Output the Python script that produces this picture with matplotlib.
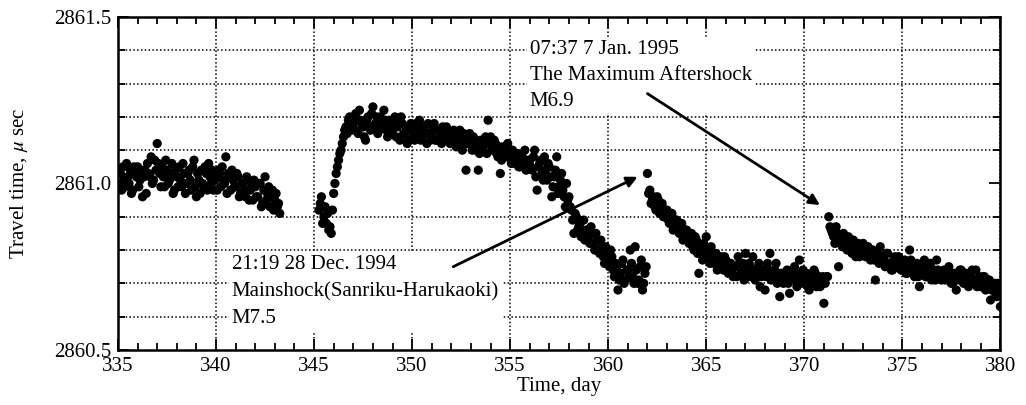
import numpy as np
import matplotlib
matplotlib.use("Agg")
import matplotlib.pyplot as plt
import matplotlib.ticker as ticker

plt.rcParams['font.family'] = ['Liberation Serif', 'DejaVu Serif']
plt.rcParams['mathtext.fontset'] = 'stix'

# ---------------- data (travel time, micro sec) ----------------
# samples every 3 hours (0.125 day); "_b" lists are the samples in between
step = 0.125

seg1_start = 335.0
seg1_vals = [
    2861.00, 2861.03, 2861.05, 2860.99, 2861.02, 2861.04, 2860.98, 2861.03,
    2861.05, 2861.01, 2860.96, 2861.04, 2861.06, 2861.02, 2861.00, 2861.07,
    2861.12, 2861.03, 2861.05, 2860.99, 2861.04, 2861.01, 2861.06, 2860.98,
    2861.02, 2861.05, 2860.99, 2861.03, 2861.00, 2861.04, 2860.98, 2861.07,
    2860.96, 2861.01, 2861.04, 2860.99, 2861.03, 2861.06, 2861.00, 2860.98,
    2861.02, 2861.04, 2860.99, 2861.01, 2861.08, 2861.03, 2860.98, 2861.01,
    2860.99, 2861.02, 2860.97, 2861.00, 2860.96, 2861.01, 2860.98, 2860.95,
    2860.99, 2860.96, 2861.00, 2860.94, 2861.02, 2860.97, 2860.93, 2860.98,
    2860.95, 2860.93, 2860.91,
]
seg1_vals_b = [
    2861.04, 2860.98, 2861.01, 2861.06, 2861.00, 2860.97, 2861.05, 2861.02,
    2860.99, 2861.04, 2861.02, 2860.97, 2861.03, 2861.08, 2861.01, 2861.04,
    2861.06, 2860.99, 2861.02, 2861.07, 2861.00, 2861.03, 2860.97, 2861.04,
    2860.99, 2861.01, 2861.06, 2860.97, 2861.03, 2861.01, 2861.05, 2860.99,
    2861.03, 2860.97, 2861.00, 2861.05, 2860.98, 2861.02, 2861.04, 2861.01,
    2860.98, 2861.03, 2861.05, 2861.00, 2860.97, 2861.02, 2861.04, 2860.99,
    2861.03, 2860.96, 2861.00, 2860.98, 2861.02, 2860.95, 2860.99, 2861.01,
    2860.96, 2861.00, 2860.93, 2860.98, 2860.95, 2860.99, 2860.96, 2860.92,
    2860.97, 2860.94,
]

seg2_start = 345.25
seg2_vals = [
    2860.92, 2860.96, 2860.90, 2860.88, 2860.86, 2860.85,
    2860.97, 2861.03, 2861.07, 2861.10, 2861.14, 2861.17, 2861.19, 2861.16,
    2861.18, 2861.21, 2861.15, 2861.19, 2861.17, 2861.13, 2861.20, 2861.16,
    2861.23, 2861.18, 2861.15, 2861.20, 2861.17, 2861.19, 2861.14, 2861.18,
    2861.16, 2861.20, 2861.17, 2861.13, 2861.18, 2861.15, 2861.12, 2861.16,
    2861.17, 2861.13, 2861.16, 2861.19, 2861.14, 2861.17, 2861.12, 2861.15,
    2861.15, 2861.18, 2861.13, 2861.16, 2861.12, 2861.15, 2861.17, 2861.14,
    2861.13, 2861.16, 2861.11, 2861.14, 2861.12, 2861.15, 2861.04, 2861.13,
    2861.12, 2861.14, 2861.10, 2861.04, 2861.13, 2861.11, 2861.14, 2861.19,
    2861.14, 2861.10, 2861.12, 2861.08, 2861.03, 2861.11, 2861.09, 2861.12,
    2861.08, 2861.10, 2861.06, 2861.09, 2861.05, 2861.08, 2861.10, 2861.06,
    2861.07, 2861.04, 2861.10, 2860.98, 2861.06, 2861.03, 2861.08, 2861.01,
    2861.05, 2860.96, 2861.02, 2861.08, 2860.99, 2861.03, 2860.96, 2861.00,
    2860.96, 2860.92, 2860.85, 2860.90, 2860.87, 2860.84, 2860.89, 2860.86,
    2860.84, 2860.87, 2860.82, 2860.85, 2860.80, 2860.83, 2860.78, 2860.81,
    2860.77, 2860.80, 2860.74, 2860.76, 2860.68, 2860.73, 2860.77, 2860.71,
    2860.74, 2860.80, 2860.72, 2860.81, 2860.70, 2860.75, 2860.68, 2860.73,
]
seg2_vals_b = [
    2860.94, 2860.88, 2860.93, 2860.91, 2860.87, 2860.92,
    2861.00, 2861.05, 2861.09, 2861.12, 2861.16, 2861.15, 2861.20, 2861.18,
    2861.16, 2861.19, 2861.22, 2861.17, 2861.14, 2861.19, 2861.17, 2861.21,
    2861.17, 2861.20, 2861.16, 2861.18, 2861.22, 2861.16, 2861.19, 2861.15,
    2861.19, 2861.14, 2861.18, 2861.20, 2861.15, 2861.17, 2861.13, 2861.18,
    2861.14, 2861.18, 2861.15, 2861.13, 2861.17, 2861.15, 2861.18, 2861.13,
    2861.17, 2861.13, 2861.16, 2861.14, 2861.17, 2861.13, 2861.15, 2861.12,
    2861.15, 2861.12, 2861.14, 2861.16, 2861.10, 2861.13, 2861.12, 2861.15,
    2861.10, 2861.13, 2861.12, 2861.09, 2861.11, 2861.13, 2861.09, 2861.12,
    2861.11, 2861.13, 2861.09, 2861.11, 2861.07, 2861.10, 2861.08, 2861.10,
    2861.06, 2861.09, 2861.07, 2861.05, 2861.08, 2861.06, 2861.04, 2861.07,
    2861.05, 2861.08, 2861.02, 2861.05, 2861.07, 2861.01, 2861.04, 2861.06,
    2861.02, 2860.99, 2861.04, 2860.97, 2861.01, 2860.98, 2860.93, 2860.95,
    2860.93, 2860.89, 2860.91, 2860.86, 2860.88, 2860.85, 2860.83, 2860.86,
    2860.82, 2860.85, 2860.80, 2860.83, 2860.79, 2860.81, 2860.76, 2860.79,
    2860.75, 2860.78, 2860.72, 2860.74, 2860.71, 2860.76, 2860.70, 2860.74,
    2860.72, 2860.76, 2860.70, 2860.74, 2860.71, 2860.77, 2860.70, 2860.75,
]

seg3_start = 362.0
seg3_vals = [
    2861.03, 2860.98, 2860.95, 2860.93, 2860.96, 2860.91, 2860.94, 2860.90,
    2860.92, 2860.88, 2860.91, 2860.87, 2860.89, 2860.85, 2860.88, 2860.84,
    2860.86, 2860.82, 2860.85, 2860.80, 2860.83, 2860.73, 2860.79, 2860.82,
    2860.84, 2860.78, 2860.81, 2860.76, 2860.79, 2860.75, 2860.78, 2860.74,
    2860.77, 2860.73, 2860.76, 2860.72, 2860.75, 2860.78, 2860.73, 2860.76,
    2860.79, 2860.72, 2860.75, 2860.78, 2860.71, 2860.74, 2860.69, 2860.73,
    2860.68, 2860.76, 2860.79, 2860.72, 2860.74, 2860.70, 2860.66, 2860.73,
    2860.71, 2860.74, 2860.67, 2860.72, 2860.75, 2860.69, 2860.77, 2860.72,
    2860.70, 2860.73, 2860.68, 2860.71, 2860.74, 2860.69, 2860.72, 2860.70,
    2860.64, 2860.72,
]
seg3_vals_b = [
    2860.97, 2860.94, 2860.96, 2860.92, 2860.95, 2860.93, 2860.90, 2860.92,
    2860.89, 2860.91, 2860.86, 2860.89, 2860.86, 2860.88, 2860.83, 2860.86,
    2860.83, 2860.85, 2860.81, 2860.84, 2860.79, 2860.81, 2860.77, 2860.80,
    2860.80, 2860.76, 2860.79, 2860.77, 2860.74, 2860.77, 2860.75, 2860.78,
    2860.74, 2860.76, 2860.73, 2860.75, 2860.72, 2860.76, 2860.74, 2860.71,
    2860.74, 2860.76, 2860.72, 2860.74, 2860.73, 2860.76, 2860.72, 2860.74,
    2860.72, 2860.74, 2860.71, 2860.73, 2860.76, 2860.71, 2860.73, 2860.70,
    2860.73, 2860.70, 2860.72, 2860.74, 2860.71, 2860.73, 2860.70, 2860.74,
    2860.72, 2860.69, 2860.72, 2860.70, 2860.73, 2860.71, 2860.69, 2860.72,
    2860.70, 2860.72,
]

seg4_start = 371.25
seg4_vals = [
    2860.90, 2860.86, 2860.84, 2860.87, 2860.75, 2860.83,
    2860.85, 2860.81, 2860.84, 2860.80, 2860.83, 2860.78, 2860.82, 2860.79,
    2860.82, 2860.78, 2860.81, 2860.77, 2860.80, 2860.71, 2860.79, 2860.81,
    2860.78, 2860.75, 2860.79, 2860.76, 2860.74, 2860.78, 2860.75, 2860.77,
    2860.74, 2860.77, 2860.73, 2860.80, 2860.75, 2860.72, 2860.76, 2860.69,
    2860.74, 2860.77, 2860.72, 2860.75, 2860.71, 2860.74, 2860.77, 2860.73,
    2860.71, 2860.74, 2860.72, 2860.75, 2860.70, 2860.73, 2860.68, 2860.72,
    2860.74, 2860.70, 2860.73, 2860.69, 2860.72, 2860.70, 2860.74, 2860.71,
    2860.69, 2860.72, 2860.68, 2860.71, 2860.65, 2860.70, 2860.67, 2860.70,
    2860.63,
]
seg4_vals_b = [
    2860.87, 2860.85, 2860.82, 2860.85, 2860.83, 2860.81,
    2860.83, 2860.80, 2860.82, 2860.79, 2860.81, 2860.80, 2860.78, 2860.81,
    2860.79, 2860.81, 2860.78, 2860.80, 2860.77, 2860.79, 2860.76, 2860.78,
    2860.77, 2860.79, 2860.76, 2860.74, 2860.77, 2860.75, 2860.78, 2860.74,
    2860.76, 2860.73, 2860.75, 2860.77, 2860.73, 2860.75, 2860.72, 2860.74,
    2860.75, 2860.72, 2860.74, 2860.76, 2860.73, 2860.71, 2860.74, 2860.72,
    2860.73, 2860.71, 2860.74, 2860.72, 2860.70, 2860.73, 2860.71, 2860.74,
    2860.71, 2860.73, 2860.70, 2860.72, 2860.74, 2860.71, 2860.69, 2860.72,
    2860.70, 2860.72, 2860.69, 2860.71, 2860.68, 2860.70, 2860.66, 2860.69,
]

segments = [
    (seg1_start, seg1_vals), (seg1_start + step / 2, seg1_vals_b),
    (seg2_start, seg2_vals), (seg2_start + step / 2, seg2_vals_b),
    (seg3_start, seg3_vals), (seg3_start + step / 2, seg3_vals_b),
    (seg4_start, seg4_vals), (seg4_start + step / 2, seg4_vals_b),
]

main_label = "21:19 28 Dec. 1994\nMainshock(Sanriku-Harukaoki)\nM7.5"
after_label = "07:37 7 Jan. 1995\nThe Maximum Aftershock\nM6.9"

# ---------------- plot ----------------
fig = plt.figure(figsize=(10.26, 4.05), dpi=100)
ax = fig.add_axes([0.115, 0.136, 0.860, 0.822])

for start, vals in segments:
    days = start + step * np.arange(len(vals))
    ax.scatter(days, vals, s=44, color='black', edgecolors='none', zorder=3)

ax.set_xlim(335, 380)
ax.set_ylim(2860.5, 2861.5)

ax.xaxis.set_major_locator(ticker.MultipleLocator(5))
ax.xaxis.set_minor_locator(ticker.MultipleLocator(1))
ax.yaxis.set_major_locator(ticker.MultipleLocator(0.5))
ax.yaxis.set_minor_locator(ticker.MultipleLocator(0.1))
ax.yaxis.set_major_formatter(ticker.FormatStrFormatter('%.1f'))

ax.tick_params(which='both', direction='in', top=True, right=True,
               labelsize=15, width=1.3)
ax.tick_params(which='major', length=8, pad=5)
ax.tick_params(which='minor', length=5)

# dotted grid: x every 5 days, y every 0.1
ax.grid(which='major', axis='x', color='black', linestyle=(0, (1, 1.5)), linewidth=1.1)
ax.grid(which='minor', axis='y', color='black', linestyle=(0, (1, 1.5)), linewidth=1.1)
ax.set_axisbelow(True)

for sp in ax.spines.values():
    sp.set_linewidth(1.8)

ax.set_xlabel("Time, day", fontsize=15, labelpad=1)
ax.set_ylabel("Travel time, $\\mu$ sec", fontsize=15, labelpad=17)

box = dict(facecolor='white', edgecolor='none', pad=2)
ax.text(340.8, 2860.675, main_label, fontsize=15, ha='left', va='center',
        linespacing=1.55, bbox=box, zorder=4)
ax.text(356.0, 2861.325, after_label, fontsize=15, ha='left', va='center',
        linespacing=1.5, bbox=box, zorder=4)

arrow = dict(arrowstyle='-|>', color='black', lw=2, mutation_scale=16,
             shrinkA=0, shrinkB=0)
ax.annotate("", xy=(361.5, 2861.02), xytext=(352.1, 2860.75),
            arrowprops=arrow, zorder=5)
ax.annotate("", xy=(370.8, 2860.935), xytext=(362.0, 2861.27),
            arrowprops=arrow, zorder=5)

plt.savefig("out.png", dpi=100)
plt.close()
